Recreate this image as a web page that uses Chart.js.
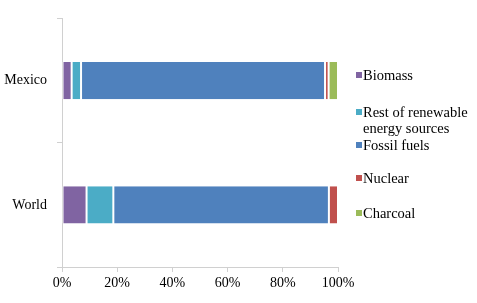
<!DOCTYPE html>
<html lang="en">
<head>
    <meta charset="UTF-8">
    <title>Energy sources</title>
    <script src="https://cdn.jsdelivr.net/npm/chart.js"></script>
    <style>
        * { margin: 0; padding: 0; box-sizing: border-box; }
        body { background: #fff; width: 477px; height: 303px; overflow: hidden; }
        .wrap { position: relative; width: 477px; height: 303px; }
        #legend {
            position: absolute;
            left: 356px;
            top: 0;
            font-family: "Liberation Serif", "Times New Roman", serif;
            font-size: 14.5px;
            line-height: 16px;
            color: #000;
        }
        #legend .item { position: absolute; left: 0; padding-left: 7px; white-space: nowrap; }
        #legend .box { position: absolute; left: 0; top: 5px; width: 6px; height: 6px; }
    </style>
</head>
<body>
    <div class="wrap">
        <canvas id="chart" width="477" height="303"></canvas>
        <div id="legend"></div>
    </div>

    <script>
        const categories = ["Mexico", "World"];
        const seriesNames = ["Biomass", ["Rest of renewable", "energy sources"], "Fossil fuels", "Nuclear", "Charcoal"];
        const biomass = [3.5, 8.9];
        const renewables = [3.4, 9.7];
        const fossil = [88.4, 78.1];
        const nuclear = [1.3, 3.3];
        const charcoal = [3.4, 0];
        const tickValues = [0, 20, 40, 60, 80, 100];

        const colors = ["#8064A2", "#4BACC6", "#4F81BD", "#C0504D", "#9BBB59"];
        const values = [biomass, renewables, fossil, nuclear, charcoal];
        // first-line top of each legend entry
        const legendTops = [67, 103.5, 137, 170, 205];

        const font = { family: "'Liberation Serif', 'Times New Roman', serif", size: 14 };

        const chart = new Chart(document.getElementById("chart").getContext("2d"), {
            type: "bar",
            data: {
                labels: categories,
                datasets: values.map((v, i) => ({
                    label: seriesNames[i],
                    data: v,
                    backgroundColor: colors[i],
                    borderColor: "#ffffff",
                    borderWidth: { left: 1, right: 1, top: 0, bottom: 0 },
                    borderSkipped: false,
                    categoryPercentage: 1,
                    barPercentage: 0.3
                }))
            },
            options: {
                indexAxis: "y",
                responsive: false,
                animation: false,
                layout: { padding: { top: 15, right: 139, left: 0, bottom: 0 } },
                plugins: { legend: { display: false }, tooltip: { enabled: false } },
                scales: {
                    x: {
                        stacked: true,
                        min: 0,
                        max: 100,
                        afterBuildTicks: axis => { axis.ticks = tickValues.map(v => ({ value: v })); },
                        afterFit: axis => { axis.height = 36; },
                        grid: { drawOnChartArea: false, tickLength: 5, color: "#d0d0d0" },
                        border: { color: "#d0d0d0" },
                        ticks: { color: "#000", font: font, padding: 3, callback: v => v + "%", maxRotation: 0 }
                    },
                    y: {
                        stacked: true,
                        afterFit: axis => { axis.width = 62; },
                        grid: { drawOnChartArea: false, tickLength: 5, offset: true, color: "#d0d0d0" },
                        border: { color: "#d0d0d0" },
                        ticks: { color: "#000", font: font, padding: 10 }
                    }
                }
            }
        });

        const legend = document.getElementById("legend");
        chart.data.datasets.forEach((ds, i) => {
            const item = document.createElement("div");
            item.className = "item";
            item.style.top = legendTops[i] + "px";
            const box = document.createElement("span");
            box.className = "box";
            box.style.background = ds.backgroundColor;
            item.appendChild(box);
            const lines = Array.isArray(ds.label) ? ds.label : [ds.label];
            lines.forEach((t, k) => {
                if (k) item.appendChild(document.createElement("br"));
                item.appendChild(document.createTextNode(t));
            });
            legend.appendChild(item);
        });
    </script>
</body>
</html>
